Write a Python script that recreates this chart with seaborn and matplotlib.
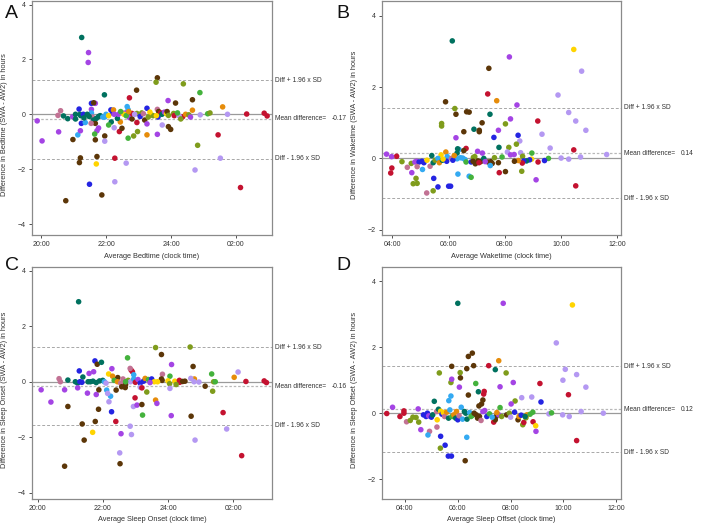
import seaborn as sns
import matplotlib.pyplot as plt
import pandas as pd
import numpy as np

# colour of each participant group
group_colors = {
    "te": "#00715f", "pu": "#a444e4", "bl": "#2424e2", "br": "#5c3608",
    "re": "#c41230", "ol": "#7f9c1c", "gr": "#44b23c", "lp": "#b498f2",
    "or": "#e68c0a", "ye": "#ffd400", "sk": "#34aaf2", "ma": "#c27294",
}

# Panel A: bedtime (clock hours, 24+ = after midnight)
bed_time = [19.88, 20.03, 20.52, 20.60, 20.54, 20.69, 20.82, 20.98, 20.97, 21.06, 21.06, 21.13, 21.17, 21.20, 21.22,
            21.21, 21.21, 21.18, 21.30, 21.24, 21.36, 21.32, 21.55, 21.67, 21.62, 21.55, 21.55, 21.58, 21.61, 21.67,
            21.54, 21.77, 21.77, 21.72, 21.65, 21.67, 21.96, 21.96, 21.72, 21.70, 21.49, 21.87, 22.27, 22.27, 22.62,
            22.15, 22.20, 22.23, 22.00, 21.96, 22.08, 22.16, 22.08, 22.25, 22.41, 22.49, 22.44, 22.35, 22.38, 22.50,
            22.65, 22.68, 22.60, 22.72, 22.80, 22.80, 22.95, 23.10, 23.26, 23.19, 23.26, 22.97, 22.68, 22.85, 23.26,
            22.95, 21.45, 21.46, 21.25, 21.95, 22.94, 22.72, 20.76, 23.58, 23.54, 24.38, 24.89, 23.91, 24.14, 24.66,
            24.66, 25.59, 23.58, 23.62, 23.68, 23.78, 23.40, 23.45, 23.60, 23.72, 23.80, 23.86, 23.88, 23.92, 24.36,
            24.08, 24.10, 24.25, 24.30, 24.90, 25.13, 25.20, 25.74, 26.33, 26.87, 26.96, 23.73, 23.92, 23.99, 23.58,
            25.45, 24.82, 25.52, 24.74, 26.14, 22.55, 22.62, 22.70, 22.88, 23.05, 23.15, 23.35, 23.30, 22.45, 22.25,
            23.55, 24.45, 24.20, 24.55, 24.60, 21.42, 21.48, 21.70, 21.82, 21.90]
bed_diff = [-0.24, -0.97, -0.04, 0.13, -0.64, -0.06, -0.16, -0.92, -0.09, 0.00, -0.17, -0.75, 0.19, 0.00, -0.05,
            -0.60, -1.59, -1.76, 0.00, -0.33, -0.30, -0.13, 0.40, 0.40, 0.42, 0.18, 0.05, -0.10, -0.21, -0.33,
            -0.33, -0.08, -0.50, -0.60, -0.72, -0.93, -0.79, -0.98, -1.54, -1.81, -2.55, -2.94, -1.60, -2.46, -1.78,
            0.16, 0.05, 0.16, 0.00, -0.10, -0.05, -0.28, -0.39, -0.49, -0.63, -0.51, -0.28, -0.15, 0.00, 0.05,
            0.28, 0.17, 0.05, -0.12, 0.03, -0.17, 0.03, 0.05, 0.22, -0.21, -0.35, -0.63, -0.87, -0.79, -0.75,
            -0.30, 1.89, 2.25, 2.80, 0.71, 0.88, 0.60, -3.15, 1.33, 1.17, 1.11, 0.79, 0.50, 0.41, 0.53,
            0.15, 0.27, 0.18, 0.10, 0.05, 0.05, -0.02, -0.05, -0.10, 0.00, 0.08, 0.02, 0.10, -0.04, -0.09,
            0.03, -0.05, -0.06, -0.17, -0.02, 0.02, 0.05, 0.00, 0.01, 0.04, -0.06, -0.39, -0.45, -0.55, -0.73,
            -0.75, -1.13, -1.60, -2.03, -2.67, 0.00, -0.05, 0.10, 0.00, -0.08, 0.02, 0.08, -0.10, 0.10, 0.00,
            -0.05, 0.00, 0.05, -0.02, -0.10, 0.00, -0.08, -0.15, -0.05, -0.10]
bed_group = ["pu", "pu", "ma", "ma", "pu", "te", "te", "br", "pu", "te", "te", "sk", "bl", "te", "te",
             "pu", "br", "br", "bl", "bl", "sk", "te", "bl", "pu", "br", "pu", "sk", "ma", "te", "br",
             "ma", "te", "pu", "pu", "gr", "br", "br", "lp", "br", "ye", "bl", "br", "re", "lp", "lp",
             "bl", "bl", "or", "sk", "sk", "ye", "te", "gr", "lp", "re", "br", "or", "te", "pu", "ma",
             "sk", "sk", "pu", "pu", "re", "br", "ol", "ol", "bl", "br", "pu", "ol", "gr", "ol", "or",
             "re", "pu", "pu", "te", "te", "br", "re", "br", "br", "ol", "ol", "gr", "pu", "br", "br",
             "or", "or", "ma", "br", "re", "te", "ye", "ol", "bl", "te", "pu", "ye", "br", "ol", "re",
             "ol", "re", "lp", "ol", "lp", "gr", "ol", "lp", "re", "re", "re", "lp", "br", "br", "pu",
             "re", "ol", "lp", "lp", "re", "ye", "gr", "or", "lp", "bl", "ma", "ye", "ol", "gr", "pu",
             "ye", "or", "gr", "ol", "pu", "te", "te", "te", "te", "sk"]

# Panel B: waketime
wake_time = [6.13, 8.16, 7.43, 7.39, 7.71, 5.89, 10.45, 10.73, 9.89, 10.27, 10.52, 10.88, 9.32, 9.17, 8.43,
             8.20, 8.02, 9.61, 10.45, 11.62, 10.00, 10.27, 10.69, 10.52, 9.11, 8.60, 6.22, 6.26, 6.64, 6.73,
             5.75, 5.75, 7.47, 7.19, 6.54, 6.90, 7.09, 7.09, 6.26, 7.61, 7.77, 7.79, 6.62, 6.37, 6.54,
             3.79, 4.15, 3.97, 4.34, 3.98, 3.94, 4.53, 4.67, 4.69, 4.84, 4.88, 4.74, 4.80, 4.86, 4.95,
             5.05, 5.12, 4.88, 5.07, 5.34, 5.22, 5.45, 5.47, 5.62, 6.00, 6.07, 6.33, 6.73, 6.80, 5.23,
             5.73, 5.90, 5.40, 5.45, 5.52, 5.62, 5.67, 5.78, 5.95, 5.93, 6.10, 6.30, 6.32, 6.30, 6.42,
             6.50, 6.58, 6.62, 6.80, 6.88, 6.93, 6.87, 6.95, 7.04, 7.14, 7.03, 7.20, 7.08, 7.25, 7.40,
             7.50, 7.55, 7.30, 7.48, 7.63, 7.77, 7.80, 8.02, 8.14, 8.09, 8.47, 8.53, 8.41, 8.56, 8.96,
             8.63, 8.20, 8.33, 7.90, 9.55, 9.41, 9.18, 8.95, 8.88, 8.77, 8.67, 8.62, 8.48, 8.34, 6.15,
             6.20, 5.80]
wake_diff = [3.30, 2.85, 2.53, 1.81, 1.62, 1.59, 3.06, 2.45, 1.78, 1.29, 1.05, 0.79, 0.68, 1.05, 1.50,
             1.11, 0.97, 0.29, 0.24, 0.11, 0.01, -0.02, 0.04, -0.77, -0.60, -0.36, 1.40, 1.24, 1.31, 1.30,
             0.98, 0.91, 1.24, 1.00, 0.75, 0.82, 0.79, 0.75, 0.58, 0.59, 0.79, 0.31, 0.28, 0.25, 0.22,
             0.12, 0.06, 0.05, -0.09, -0.27, -0.41, -0.25, -0.14, -0.40, -0.56, -0.70, -0.71, -0.10, -0.08, -0.10,
             -0.08, -0.12, -0.23, -0.31, -0.22, -0.97, -0.91, -0.56, -0.80, -0.78, -0.78, -0.44, -0.50, -0.53, -0.05,
             0.10, 0.18, 0.08, -0.12, -0.05, 0.00, -0.12, -0.05, 0.05, -0.08, 0.00, 0.15, 0.27, -0.01, 0.02,
             0.01, -0.03, -0.10, -0.10, 0.03, 0.05, -0.08, -0.15, -0.07, -0.09, 0.20, 0.15, -0.12, 0.00, -0.10,
             -0.09, -0.14, -0.09, -0.20, 0.02, -0.12, -0.40, -0.37, 0.31, 0.18, 0.65, 0.49, 0.40, 0.16, 0.15,
             0.06, 0.10, 0.11, 0.04, 0.00, -0.06, -0.10, -0.02, -0.04, -0.07, -0.07, -0.13, -0.06, -0.08, -0.05,
             0.08, -0.02]
wake_group = ["te", "pu", "br", "re", "or", "br", "ye", "lp", "lp", "lp", "lp", "lp", "lp", "re", "pu",
              "pu", "ol", "lp", "re", "lp", "lp", "lp", "lp", "re", "pu", "ol", "ol", "br", "br", "br",
              "ol", "ol", "te", "br", "br", "te", "br", "br", "pu", "bl", "pu", "te", "re", "sk", "br",
              "pu", "re", "pu", "ol", "re", "re", "ma", "ol", "pu", "ol", "ol", "ol", "pu", "pu", "bl",
              "bl", "bl", "ma", "sk", "ma", "ma", "ol", "bl", "bl", "bl", "bl", "sk", "sk", "gr", "ye",
              "ye", "or", "te", "te", "ol", "sk", "or", "te", "sk", "bl", "ma", "te", "te", "sk", "sk",
              "sk", "sk", "gr", "bl", "ol", "ol", "br", "br", "br", "br", "pu", "pu", "re", "te", "br",
              "br", "br", "pu", "sk", "ol", "br", "re", "br", "ol", "lp", "bl", "lp", "ol", "lp", "gr",
              "ol", "pu", "pu", "gr", "gr", "bl", "re", "ye", "bl", "te", "bl", "re", "or", "br", "bl",
              "or", "ye"]

# Panel C: sleep onset
onset_time = [21.26, 22.76, 21.76, 21.83, 21.96, 21.28, 21.39, 21.58, 21.72, 20.66, 20.70, 20.93, 21.16, 21.23, 21.30,
              21.36, 21.55, 21.62, 21.70, 21.80, 21.90, 22.00, 20.11, 20.41, 20.83, 21.23, 21.53, 21.80, 20.93, 21.88,
              21.87, 21.77, 21.37, 21.43, 21.69, 20.83, 22.53, 22.52, 22.56, 22.88, 22.84, 22.40, 22.27, 22.12, 22.24,
              22.15, 22.19, 22.41, 22.69, 22.46, 22.87, 22.91, 22.84, 22.28, 22.18, 22.30, 22.95, 22.94, 23.05, 22.99,
              23.35, 23.22, 23.20, 23.62, 24.68, 23.80, 24.11, 24.77, 25.34, 26.15, 26.03, 24.81, 23.83, 24.06, 23.80,
              23.82, 23.68, 24.21, 24.00, 24.35, 24.36, 24.45, 24.52, 24.05, 24.25, 25.40, 25.45, 24.70, 24.80, 24.95,
              24.06, 25.14, 25.37, 26.39, 26.95, 27.02, 23.62, 23.66, 24.10, 24.71, 25.69, 25.80, 24.83, 26.26, 22.35,
              22.45, 22.55, 22.62, 22.70, 22.78, 22.85, 22.95, 23.00, 23.08, 23.15, 23.25, 23.30, 23.40, 23.50, 23.58,
              23.45, 23.15, 23.20, 22.70, 22.58, 22.05, 22.10]
onset_diff = [2.88, 0.86, 0.75, 0.63, 0.70, 0.39, 0.17, 0.30, 0.36, 0.11, 0.00, 0.06, 0.00, -0.05, 0.00,
              -0.02, 0.00, 0.00, 0.02, -0.03, 0.03, 0.05, -0.29, -0.73, -0.29, -0.22, -0.41, -0.46, -0.89, -0.29,
              -0.99, -1.43, -1.52, -2.10, -1.82, -3.04, -2.95, -2.56, -1.87, -1.90, -1.60, -1.43, -1.08, -0.30, -0.52,
              -0.42, -0.72, -0.30, -0.21, 0.15, 0.42, 0.36, 0.48, 0.47, 0.28, 0.20, 0.25, -0.89, -0.84, -0.58,
              -0.37, -1.20, -0.82, 1.23, 1.25, 0.98, 0.62, 0.55, 0.28, 0.35, 0.16, 0.10, 0.27, 0.20, 0.10,
              0.05, 0.00, 0.02, 0.03, 0.05, -0.02, 0.01, 0.02, -0.07, -0.10, 0.00, 0.00, 0.12, 0.00, -0.01,
              -0.24, -0.16, -0.34, 0.01, 0.03, -0.03, -0.66, -0.78, -1.22, -1.24, -1.11, -1.70, -2.10, -2.66, 0.05,
              0.00, -0.05, 0.10, -0.10, 0.05, 0.00, 0.10, -0.02, 0.08, -0.05, 0.02, 0.12, 0.08, 0.10, 0.00,
              -0.03, -0.20, -0.22, 0.00, -0.18, 0.00, -0.05]
onset_group = ["te", "gr", "bl", "br", "te", "bl", "te", "pu", "pu", "ma", "ma", "te", "te", "te", "bl",
               "bl", "te", "te", "te", "te", "te", "te", "pu", "pu", "pu", "pu", "pu", "pu", "br", "br",
               "br", "br", "br", "br", "ye", "br", "br", "lp", "pu", "lp", "lp", "re", "bl", "sk", "sk",
               "lp", "lp", "br", "br", "br", "re", "re", "ma", "pu", "ye", "or", "sk", "lp", "pu", "re",
               "ol", "gr", "br", "ol", "ol", "br", "pu", "br", "gr", "lp", "or", "or", "ma", "gr", "br",
               "br", "ye", "ye", "ye", "re", "re", "br", "br", "ol", "ol", "ol", "gr", "lp", "lp", "lp",
               "lp", "br", "ol", "re", "re", "re", "or", "pu", "pu", "br", "re", "lp", "lp", "re", "gr",
               "or", "ma", "ma", "br", "ol", "lp", "sk", "re", "pu", "bl", "bl", "or", "gr", "bl", "ye",
               "pu", "lp", "re", "gr", "br", "sk", "lp"]

# Panel D: sleep offset
offset_time = [6.00, 7.72, 10.34, 9.73, 10.07, 10.50, 9.98, 10.85, 10.19, 9.11, 9.15, 8.80, 11.51, 10.67, 9.45,
               9.97, 10.22, 10.50, 8.96, 6.28, 5.64, 5.76, 5.52, 5.34, 5.35, 6.34, 3.31, 3.53, 3.96, 3.96,
               3.81, 4.06, 4.20, 4.30, 4.42, 4.50, 4.52, 4.60, 4.93, 4.87, 5.21, 5.11, 5.30, 5.77, 5.74,
               5.77, 5.74, 5.66, 6.09, 6.10, 6.06, 6.34, 6.40, 6.55, 6.60, 6.40, 6.68, 6.78, 7.00, 6.98,
               6.95, 6.90, 6.80, 7.17, 7.55, 7.42, 7.83, 8.10, 7.60, 8.17, 8.02, 8.42, 7.60, 8.28, 8.46,
               8.50, 8.85, 8.95, 7.36, 7.42, 7.45, 7.55, 4.70, 4.80, 4.85, 4.90, 5.00, 5.05, 5.20, 5.22,
               5.27, 5.35, 5.40, 5.45, 5.50, 5.58, 5.65, 5.70, 5.78, 5.85, 5.92, 6.00, 5.95, 6.05, 6.13,
               6.18, 6.25, 6.30, 6.35, 6.45, 6.50, 6.55, 6.62, 6.70, 6.75, 6.82, 6.88, 6.95, 7.02, 7.10,
               7.20, 7.30, 7.48, 7.66, 7.85, 7.95, 8.15, 8.32, 8.40, 8.58, 8.62, 8.74, 8.84, 9.55, 8.55,
               8.00]
offset_diff = [3.33, 3.33, 3.28, 2.13, 1.33, 1.17, 1.00, 0.79, 0.56, 0.90, 0.34, 0.49, 0.00, 0.05, -0.02,
               -0.05, -0.10, -0.83, -0.55, -1.44, -1.30, -1.30, -0.97, -1.06, -0.70, -0.73, -0.01, 0.18, 0.07, 0.00,
               -0.10, -0.26, -0.22, -0.12, -0.13, 0.13, -0.27, -0.50, -0.55, -0.66, -0.42, 0.36, 1.22, 1.42, 0.93,
               1.03, 0.52, 0.38, 1.23, 1.07, 0.79, 1.35, 1.72, 1.82, 1.44, 0.55, 0.90, 0.65, 0.66, 0.58,
               0.40, 0.28, 0.22, 1.44, 1.59, 1.32, 1.22, 0.93, 0.80, 0.37, 0.28, 0.47, 0.17, -0.20, -0.35,
               -0.28, -0.26, -0.38, -0.27, -0.20, -0.10, -0.05, -0.05, -0.10, 0.00, -0.08, -0.12, -0.05, 0.05, -0.20,
               0.12, 0.06, -0.03, 0.02, -0.10, 0.03, -0.15, 0.10, -0.10, -0.05, -0.15, -0.20, 0.05, -0.08, 0.18,
               -0.18, 0.05, 0.00, -0.18, 0.02, -0.10, -0.07, 0.00, -0.05, -0.15, -0.10, -0.22, 0.05, 0.08, -0.10,
               -0.02, -0.12, 0.02, -0.10, -0.05, 0.00, 0.03, -0.10, -0.06, -0.14, -0.05, -0.03, 0.03, 0.01, -0.10,
               -0.12]
offset_group = ["te", "pu", "ye", "lp", "lp", "lp", "lp", "lp", "re", "re", "bl", "lp", "lp", "lp", "lp",
                "lp", "lp", "re", "pu", "br", "bl", "bl", "bl", "ol", "bl", "sk", "re", "pu", "re", "re",
                "re", "ma", "ol", "ol", "ol", "pu", "ol", "pu", "ma", "sk", "ma", "te", "ol", "br", "ol",
                "pu", "sk", "sk", "ol", "br", "pu", "br", "br", "br", "br", "br", "gr", "te", "re", "re",
                "br", "br", "br", "re", "or", "te", "ol", "pu", "pu", "ol", "pu", "lp", "gr", "br", "ol",
                "re", "re", "ye", "re", "br", "br", "pu", "bl", "bl", "bl", "pu", "bl", "te", "ma", "ye",
                "te", "ye", "bl", "ye", "ma", "or", "te", "sk", "gr", "or", "te", "bl", "or", "ma", "sk",
                "sk", "te", "te", "te", "sk", "gr", "gr", "br", "br", "br", "br", "ma", "pu", "pu", "bl",
                "gr", "sk", "or", "ol", "br", "ol", "bl", "or", "bl", "ol", "or", "gr", "gr", "gr", "te",
                "lp"]

# mean difference and limits of agreement (upper, mean, lower) per panel
bed_lines = [1.25, -0.17, -1.62]
wake_lines = [1.42, 0.14, -1.12]
onset_lines = [1.25, -0.16, -1.57]
offset_lines = [1.43, 0.12, -1.18]

evening_ticks = [20, 22, 24, 26]
evening_labels = ["20:00", "22:00", "24:00", "02:00"]
morning_ticks = [4, 6, 8, 10, 12]
morning_labels = ["04:00", "06:00", "08:00", "10:00", "12:00"]

sns.set_theme(style="white")
plt.rcParams["font.family"] = ["Liberation Sans", "DejaVu Sans"]

fig = plt.figure(figsize=(7.09, 5.24), dpi=100)
W, H = 709, 524


def add_ax(left, top, right, bottom):
    return fig.add_axes([left / W, 1 - bottom / H, (right - left) / W, (bottom - top) / H])


def bland_altman(ax, x, y, g, lines, mean_txt, xticks, xlabels, yticks, xlim, ylim, xlabel, ylabel):
    df = pd.DataFrame({"x": x, "y": y, "g": g})
    ax.axhline(0, color="#9a9a9a", lw=0.9, zorder=1)
    for v in (lines[0], lines[2]):
        ax.axhline(v, color="#a8a8a8", lw=0.7, ls=(0, (3, 2)), zorder=1)
    ax.axhline(lines[1], color="#b8b8b8", lw=0.9, ls=(0, (2, 1.5)), zorder=1)
    sns.scatterplot(data=df, x="x", y="y", hue="g", palette=group_colors, s=16,
                    linewidth=0, legend=False, ax=ax, zorder=3)
    ax.set_xlim(*xlim)
    ax.set_ylim(*ylim)
    ax.set_xticks(xticks)
    ax.set_xticklabels(xlabels)
    ax.set_yticks(yticks)
    ax.set_xlabel(xlabel, fontsize=5.3, color="#333333")
    ax.set_ylabel(ylabel, fontsize=5.3, color="#333333")
    ax.xaxis.set_label_coords(0.5, -0.075)
    ax.yaxis.set_label_coords(-0.1, 0.47)
    ax.tick_params(axis="both", labelsize=5, colors="#333333", length=2.5, width=0.6,
                   direction="out", pad=2, bottom=True, left=True)
    for sp in ax.spines.values():
        sp.set_color("#8a8a8a")
        sp.set_linewidth(0.9)
    tr = ax.get_yaxis_transform()
    kw = dict(transform=tr, fontsize=4.8, color="#333333", va="center", clip_on=False)
    ax.text(1.013, lines[0], "Diff + 1.96 x SD", **kw)
    ax.text(1.013, lines[2], "Diff - 1.96 x SD", **kw)
    ax.text(1.013, lines[1], "Mean difference=", **kw)
    ax.text(1.25, lines[1], mean_txt, **kw)


axA = add_ax(32, 1, 272, 235)
bland_altman(axA, bed_time, bed_diff, bed_group, bed_lines, "-0.17", evening_ticks, evening_labels,
             [-4, -2, 0, 2, 4], (19.72, 27.11), (-4.4, 4.13),
             "Average Bedtime (clock time)", "Difference in Bedtime (SWA - AW2) in hours")

axB = add_ax(382, 1, 621, 235)
bland_altman(axB, wake_time, wake_diff, wake_group, wake_lines, "0.14", morning_ticks, morning_labels,
             [-2, 0, 2, 4], (3.63, 12.13), (-2.15, 4.42),
             "Average Waketime (clock time)", "Difference in Waketime (SWA - AW2) in hours")

axC = add_ax(32, 267, 272, 499)
bland_altman(axC, onset_time, onset_diff, onset_group, onset_lines, "-0.16", evening_ticks, evening_labels,
             [-4, -2, 0, 2, 4], (19.83, 27.19), (-4.22, 4.13),
             "Average Sleep Onset (clock time)", "Difference in Sleep Onset (SWA - AW2) in hours")

axD = add_ax(382, 267, 621, 499)
bland_altman(axD, offset_time, offset_diff, offset_group, offset_lines, "0.12", morning_ticks, morning_labels,
             [-2, 0, 2, 4], (3.13, 12.18), (-2.6, 4.43),
             "Average Sleep Offset (clock time)", "Difference in Sleep Offset (SWA - AW2) in hours")

for letter, px, py in [("A", 5, 14), ("B", 336, 14), ("C", 5, 266), ("D", 336, 266)]:
    fig.text(px / W, 1 - py / H, letter, fontsize=14, color="#111111", va="center", ha="left")

fig.savefig("out.png", dpi=100)
